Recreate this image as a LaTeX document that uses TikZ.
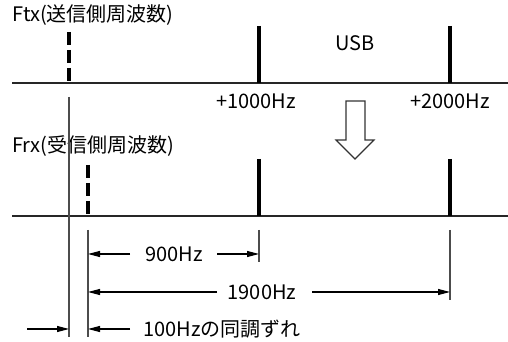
\documentclass[tikz,border=0pt]{standalone}
\usepackage{fontspec}
\setmainfont{Noto Sans CJK JP}
\usetikzlibrary{arrows.meta}
\begin{document}
\begin{tikzpicture}[x=0.75pt,y=-0.75pt,
  txt/.style={font=\fontsize{15}{17}\selectfont, inner sep=0pt},
  axis/.style={line width=0.8pt, draw=black!85},
  thinline/.style={line width=0.8pt, draw=black!70},
  carrier/.style={line width=3pt},
  dashcarrier/.style={line width=3pt, dash pattern=on 9.75pt off 3.75pt},
  dim/.style={line width=0.8pt, -{Triangle[length=9pt,width=4.5pt]}},
  hollow/.style={line width=0.8pt, draw=black!80, fill=white}]
\useasboundingbox (0,0) rectangle (508,342);

% texts
\node[txt, anchor=west] (ftx) at (12,15) {Ftx(送信側周波数)};
\node[txt] (usb) at (355,43) {USB};
\node[txt] (p1000) at (256,101) {+1000Hz};
\node[txt] (p2000) at (450,101) {+2000Hz};
\node[txt, anchor=west] (frx) at (12,146) {Frx(受信側周波数)};
\node[txt] (d900) at (174,254) {900Hz};
\node[txt] (d1900) at (262,292) {1900Hz};
\node[txt, anchor=west] (d100) at (143,329) {100Hzの同調ずれ};

% axes
\coordinate (a1l) at (12,83);  \coordinate (a1r) at (508,83);
\coordinate (a2l) at (12,216); \coordinate (a2r) at (508,216);
\draw[axis] (a1l) -- (a1r);
\draw[axis] (a2l) -- (a2r);

% carriers, transmit
\coordinate (t0t) at (69,32);  \coordinate (t0b) at (69,83);
\coordinate (t1t) at (259,26); \coordinate (t1b) at (259,83);
\coordinate (t2t) at (450,26); \coordinate (t2b) at (450,83);
\draw[dashcarrier] (t0t) -- (t0b);
\draw[carrier] (t1t) -- (t1b);
\draw[carrier] (t2t) -- (t2b);

% carriers, receive
\coordinate (r0t) at (88,165);  \coordinate (r0b) at (88,216);
\coordinate (r1t) at (259,159); \coordinate (r1b) at (259,216);
\coordinate (r2t) at (450,159); \coordinate (r2b) at (450,216);
\draw[dashcarrier] (r0t) -- (r0b);
\draw[carrier] (r1t) -- (r1b);
\draw[carrier] (r2t) -- (r2b);

% reference and extension lines
\coordinate (e0t) at (69,97);  \coordinate (e0b) at (69,337);
\coordinate (e1t) at (88,230); \coordinate (e1b) at (88,337);
\coordinate (e2t) at (259,230); \coordinate (e2b) at (259,262);
\coordinate (e3t) at (450,230); \coordinate (e3b) at (450,300);
\draw[thinline] (e0t) -- (e0b);
\draw[thinline] (e1t) -- (e1b);
\draw[thinline] (e2t) -- (e2b);
\draw[thinline] (e3t) -- (e3b);

% dimension arrows
\coordinate (m900a) at (130,254); \coordinate (m900b) at (88,254);
\coordinate (m900c) at (217,254); \coordinate (m900d) at (259,254);
\draw[dim] (m900a) -- (m900b);
\draw[dim] (m900c) -- (m900d);
\coordinate (m1900a) at (217,292); \coordinate (m1900b) at (88,292);
\coordinate (m1900c) at (312,292); \coordinate (m1900d) at (450,292);
\draw[dim] (m1900a) -- (m1900b);
\draw[dim] (m1900c) -- (m1900d);
\coordinate (m100a) at (27,329);  \coordinate (m100b) at (69,329);
\coordinate (m100c) at (130,329); \coordinate (m100d) at (88,329);
\draw[dim] (m100a) -- (m100b);
\draw[dim] (m100c) -- (m100d);

% hollow down arrow
\draw[hollow] (346,101) -- (365,101) -- (365,140) -- (374,140) -- (355,159)
  -- (336,140) -- (346,140) -- cycle;
\end{tikzpicture}
\end{document}
